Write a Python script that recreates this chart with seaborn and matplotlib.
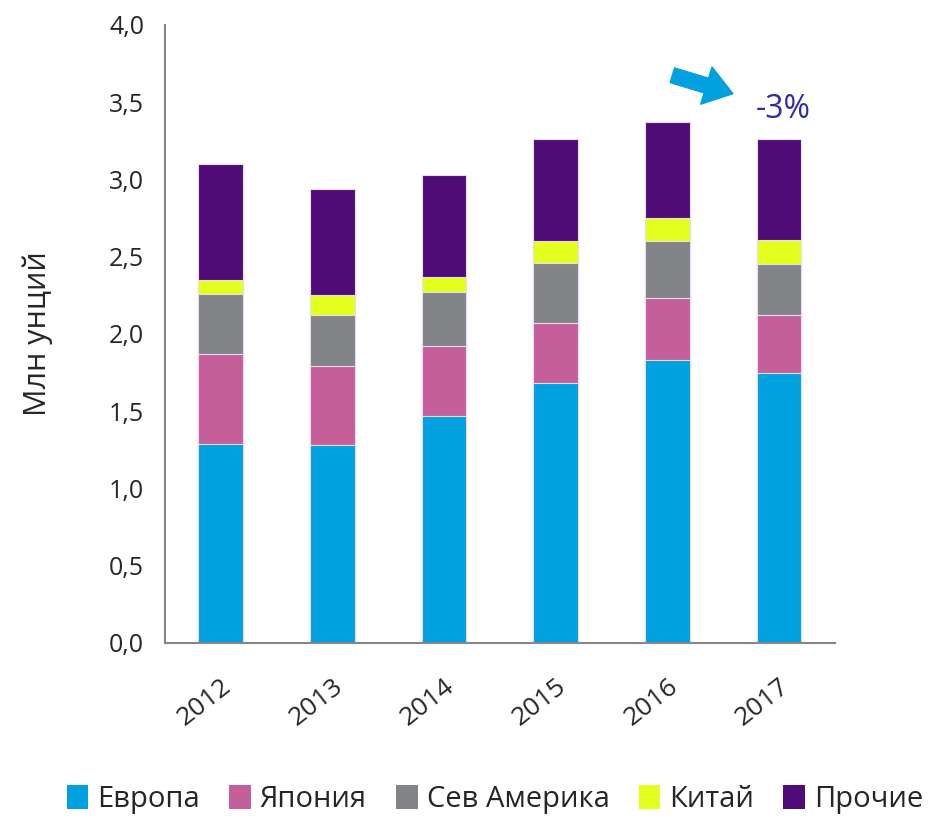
import matplotlib
matplotlib.use("Agg")
import matplotlib.pyplot as plt
import seaborn as sns
import numpy as np
import pandas as pd
from matplotlib.patches import Patch

years = ["2012", "2013", "2014", "2015", "2016", "2017"]
europe = [1.29, 1.28, 1.47, 1.68, 1.83, 1.75]
japan = [0.58, 0.51, 0.45, 0.39, 0.40, 0.37]
north_america = [0.39, 0.33, 0.35, 0.39, 0.37, 0.33]
china = [0.09, 0.13, 0.10, 0.14, 0.15, 0.16]
others = [0.75, 0.69, 0.66, 0.66, 0.62, 0.65]

series_names = ["Европа", "Япония", "Сев Америка", "Китай", "Прочие"]
series_values = [europe, japan, north_america, china, others]
colors = ["#00A1DE", "#C55F9B", "#838487", "#E3FF1E", "#500C76"]

sns.set_style("white")
plt.rcParams["font.family"] = ["Open Sans", "DejaVu Sans"]

df = pd.DataFrame(dict(zip(series_names, series_values)), index=years)
cum = df.cumsum(axis=1)

fig = plt.figure(figsize=(9.39, 8.22), dpi=100)
ax = fig.add_axes([0.1757, 0.2178, 0.7135, 0.7518])

# stacked bars: overlapping cumulative bars, tallest first
for name, col in reversed(list(zip(series_names, colors))):
    sns.barplot(x=list(years), y=cum[name].values, color=col, width=0.4,
                edgecolor="#E8DDF0", linewidth=0.8, ax=ax, saturation=1)

ax.set_ylim(0, 4.0)
ax.set_xlim(-0.5, 5.5)
yt = np.arange(0, 4.01, 0.5)
ax.set_yticks(yt)
ax.set_yticklabels([f"{v:.1f}".replace(".", ",") for v in yt], fontsize=18)
ax.set_xticks(range(len(years)))
ax.set_xticklabels(years, fontsize=19, rotation=38, ha="right",
                   rotation_mode="anchor")
ax.set_xticks(np.arange(-0.5, 6.0, 1), minor=True)
ax.tick_params(axis="x", which="major", length=0, pad=22)
ax.tick_params(axis="x", which="minor", length=7, width=1.5, color="#868686",
               direction="out")
ax.tick_params(axis="y", length=7, width=1.5, color="#868686", direction="out",
               pad=8)
for s in ["top", "right"]:
    ax.spines[s].set_visible(False)
for s in ["left", "bottom"]:
    ax.spines[s].set_color("#868686")
    ax.spines[s].set_linewidth(1.5)
ax.set_xlabel("")
ax.set_ylabel("Млн унций", fontsize=22, labelpad=40)

ax.annotate("", xy=(4.61, 3.55), xytext=(4.02, 3.68),
            arrowprops=dict(arrowstyle="simple,head_width=1.4,head_length=1.0,tail_width=0.55",
                            fc="#00A1DE", ec="#00A1DE", mutation_scale=20))
ax.text(5.04, 3.45, "-3%", fontsize=23, color="#2B2BAE", ha="center", va="center")

handles = [Patch(facecolor=c, edgecolor="none") for c in colors]
fig.legend(handles, series_names, loc="lower center", bbox_to_anchor=(0.527, -0.022),
           ncol=5, frameon=False, fontsize=21, handlelength=0.75, handleheight=0.9,
           handletextpad=0.3, columnspacing=1.0)

fig.savefig("out.png", dpi=100)
